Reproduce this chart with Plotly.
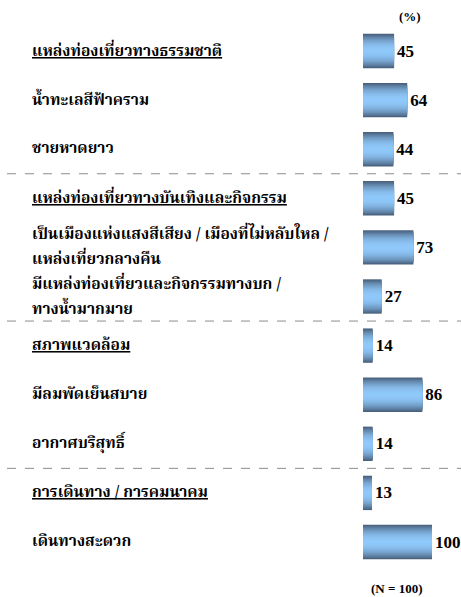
import plotly.graph_objects as go

# Survey items (top to bottom); each item is a list of its text lines
labels = [
    ["แหล่งท่องเที่ยวทางธรรมชาติ"],
    ["น้ำทะเลสีฟ้าคราม"],
    ["ชายหาดยาว"],
    ["แหล่งท่องเที่ยวทางบันเทิงและกิจกรรม"],
    ["เป็นเมืองแห่งแสงสีเสียง / เมืองที่ไม่หลับใหล /", "แหล่งเที่ยวกลางคืน"],
    ["มีแหล่งท่องเที่ยวและกิจกรรมทางบก /", "ทางน้ำมากมาย"],
    ["สภาพแวดล้อม"],
    ["มีลมพัดเย็นสบาย"],
    ["อากาศบริสุทธิ์"],
    ["การเดินทาง / การคมนาคม"],
    ["เดินทางสะดวก"],
]
is_header = [True, False, False, True, False, False, True, False, False, True, False]
values = [45, 64, 44, 45, 73, 27, 14, 86, 14, 13, 100]
group_breaks = [2.5, 5.5, 8.5]

rows = list(range(len(values)))

W, H = 461, 597
row_px = 49.1
first_row_px = 51
bar_left_px = 363
px_per_unit = 0.69
line_gap_px = 25

y_top = -first_row_px / row_px
y_bottom = (H - first_row_px) / row_px
x_left = -bar_left_px / px_per_unit
x_right = (W - bar_left_px) / px_per_unit

thai_font = "Noto Serif Thai, Noto Sans Thai, Liberation Serif, serif"
num_font = "Liberation Serif, Times New Roman, serif"

dark = (74, 98, 126)
light = (143, 200, 250)


def mix(t):
    return "rgb({},{},{})".format(*[round(l + (d - l) * t) for d, l in zip(dark, light)])


fig = go.Figure()

# Vertical gradient on each bar built from stacked, narrowing bars
n_layers = 14
full_width = 0.70
for k in range(n_layers):
    f = 1 - k / n_layers
    width = full_width * f
    fig.add_trace(go.Bar(
        x=values, y=rows, orientation="h", base=0,
        width=width,
        marker=dict(color=mix(f ** 2.2), line=dict(width=0)),
        text=[f"<b>{v}</b>" for v in values] if k == 0 else None,
        textposition="outside" if k == 0 else "none",
        textfont=dict(family=num_font, size=17, color="black"),
        cliponaxis=False,
        hoverinfo="skip",
        showlegend=False,
    ))

# Item labels on the left, one annotation per text line
for r, (lines, hd) in enumerate(zip(labels, is_header)):
    n = len(lines)
    for j, line in enumerate(lines):
        offset = (j - (n - 1) / 2) * line_gap_px / row_px
        txt = f"<b><u>{line}</u></b>" if hd else f"<b>{line}</b>"
        fig.add_annotation(
            x=30 / W, xref="paper", y=r + offset, yref="y",
            text=txt, showarrow=False, xanchor="left", yanchor="middle",
            align="left",
            font=dict(family=thai_font, size=15.5, color="black"),
        )

# Dashed separators between groups
for yb in group_breaks:
    fig.add_shape(
        type="line", xref="paper", yref="y",
        x0=7 / W, x1=1, y0=yb, y1=yb,
        line=dict(color="#8c8c8c", width=1, dash="dash"),
    )

fig.add_annotation(
    x=410 / W, xref="paper", y=1 - 17 / H, yref="paper",
    text="<b>(%)</b>", showarrow=False, xanchor="center", yanchor="middle",
    font=dict(family=num_font, size=13, color="black"),
)
fig.add_annotation(
    x=396 / W, xref="paper", y=1 - 588 / H, yref="paper",
    text="<b>(N = 100)</b>", showarrow=False, xanchor="center", yanchor="middle",
    font=dict(family=num_font, size=13, color="black"),
)

fig.update_layout(
    width=W, height=H,
    margin=dict(l=0, r=0, t=0, b=0),
    paper_bgcolor="white", plot_bgcolor="white",
    barmode="overlay",
    xaxis=dict(range=[x_left, x_right], visible=False, fixedrange=True),
    yaxis=dict(range=[y_bottom, y_top], visible=False, fixedrange=True),
)

fig.write_html("out.html")
